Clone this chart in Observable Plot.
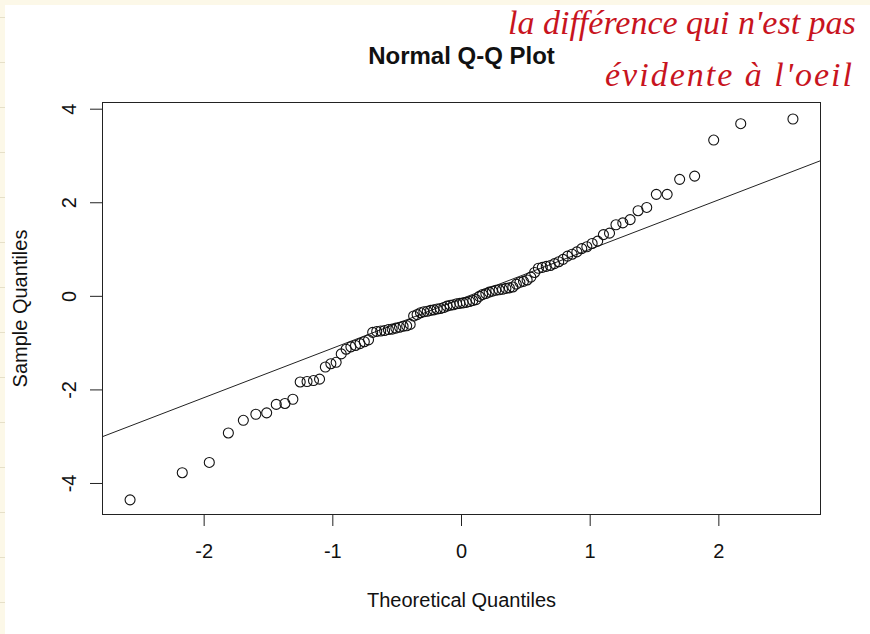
<!DOCTYPE html>
<html>
<head>
<meta charset="utf-8">
<script src="https://cdn.jsdelivr.net/npm/d3@7"></script>
<script src="https://cdn.jsdelivr.net/npm/@observablehq/plot@0.6"></script>
<style>
  html, body { margin: 0; padding: 0; width: 870px; height: 634px; overflow: hidden; background: #fff; }
  #wrap { position: relative; width: 870px; height: 634px; overflow: hidden; }
  #chart { position: absolute; left: 0; top: 0; }
  .strip-left { position: absolute; left: 0; top: 0; width: 5px; height: 634px; background-color: #fcf8e8;
    background-image: repeating-linear-gradient(to bottom, transparent 0px, transparent 17px, #e6e0c8 17px, #e6e0c8 18px, transparent 18px, transparent 45px); }
  .strip-top { position: absolute; left: 0; top: 0; width: 870px; height: 5px; background: #fcf8e8; }
  .note { position: absolute; color: #c8141e; font-family: "Liberation Serif", serif; font-style: italic; font-size: 34px; white-space: nowrap; line-height: 1; }
</style>
</head>
<body>
<div id="wrap">
  <div id="chart"></div>
  <div class="strip-left"></div>
  <div class="strip-top"></div>
  <div class="note" style="left:508px; top:6px;">la différence qui n'est pas</div>
  <div class="note" style="left:605px; top:58px; letter-spacing:2px;">évidente à l'oeil</div>
</div>
<script>
// Theoretical normal quantiles (n = 100)
const theoretical = [
  -2.5758, -2.1701, -1.9600, -1.8119, -1.6954, -1.5982, -1.5141, -1.4395, -1.3722, -1.3106,
  -1.2536, -1.2004, -1.1503, -1.1031, -1.0581, -1.0152, -0.9741, -0.9346, -0.8965, -0.8596,
  -0.8239, -0.7892, -0.7554, -0.7225, -0.6903, -0.6588, -0.6280, -0.5978, -0.5681, -0.5388,
  -0.5101, -0.4817, -0.4538, -0.4261, -0.3989, -0.3719, -0.3451, -0.3186, -0.2924, -0.2663,
  -0.2404, -0.2147, -0.1891, -0.1637, -0.1383, -0.1130, -0.0878, -0.0627, -0.0376, -0.0125,
   0.0125,  0.0376,  0.0627,  0.0878,  0.1130,  0.1383,  0.1637,  0.1891,  0.2147,  0.2404,
   0.2663,  0.2924,  0.3186,  0.3451,  0.3719,  0.3989,  0.4261,  0.4538,  0.4817,  0.5101,
   0.5388,  0.5681,  0.5978,  0.6280,  0.6588,  0.6903,  0.7225,  0.7554,  0.7892,  0.8239,
   0.8596,  0.8965,  0.9346,  0.9741,  1.0152,  1.0581,  1.1031,  1.1503,  1.2004,  1.2536,
   1.3106,  1.3722,  1.4395,  1.5141,  1.5982,  1.6954,  1.8119,  1.9600,  2.1701,  2.5758
];
// Sample quantiles (sorted sample)
const sample = [
  -4.35, -3.77, -3.55, -2.92, -2.65, -2.52, -2.49, -2.31, -2.29, -2.20,
  -1.83, -1.82, -1.80, -1.77, -1.51, -1.44, -1.41, -1.23, -1.13, -1.08,
  -1.05, -1.01, -0.97, -0.93, -0.77, -0.75, -0.74, -0.73, -0.71, -0.70,
  -0.68, -0.66, -0.64, -0.63, -0.60, -0.42, -0.39, -0.35, -0.33, -0.32,
  -0.30, -0.29, -0.27, -0.26, -0.24, -0.21, -0.19, -0.18, -0.16, -0.15,
  -0.14, -0.13, -0.11, -0.09, -0.07,  0.00,  0.04,  0.06,  0.09,  0.11,
   0.13,  0.14,  0.15,  0.17,  0.18,  0.20,  0.26,  0.30,  0.32,  0.35,
   0.41,  0.51,  0.60,  0.62,  0.64,  0.66,  0.70,  0.74,  0.79,  0.86,
   0.90,  0.95,  1.02,  1.06,  1.13,  1.18,  1.32,  1.35,  1.53,  1.57,
   1.64,  1.83,  1.90,  2.18,  2.18,  2.50,  2.57,  3.34,  3.69,  3.79
];
// Reference line (qqline) through the quartiles
const lineIntercept = -0.05;
const lineSlope = 1.057;
const lineXs = [-3.2, 3.2];

const xTicks = [-2, -1, 0, 1, 2];
const yTicks = [-4, -2, 0, 2, 4];

const title = "Normal Q-Q Plot";
const xLabel = "Theoretical Quantiles";
const yLabel = "Sample Quantiles";

const points = theoretical.map((t, i) => ({t, s: sample[i]}));
const refLine = lineXs.map(x => ({x, y: lineIntercept + lineSlope * x}));
const fmt = d => String(d);

const chart = Plot.plot({
  width: 870,
  height: 634,
  marginLeft: 102,
  marginRight: 50,
  marginTop: 102,
  marginBottom: 120,
  x: {domain: [-2.79, 2.79]},
  y: {domain: [-4.663, 4.143]},
  style: {fontFamily: "'Liberation Sans', Arial, sans-serif", fontSize: "20px", background: "transparent", color: "#111"},
  marks: [
    Plot.line(refLine, {x: "x", y: "y", stroke: "#222", strokeWidth: 1, clip: true}),
    Plot.dot(points, {x: "t", y: "s", r: 5, stroke: "#111", strokeWidth: 1.1, fill: "none"}),
    Plot.frame({stroke: "#222", strokeWidth: 1}),
    Plot.axisX({ticks: xTicks, tickSize: 12, tickPadding: 17, tickFormat: fmt, label: null, fontSize: 20, stroke: "#222"}),
    Plot.axisY({ticks: yTicks, tickSize: 12, tickFormat: () => "", label: null, stroke: "#222"}),
    Plot.text(yTicks, {y: d => d, text: fmt, frameAnchor: "left", textAnchor: "middle", lineAnchor: "middle", dx: -33, rotate: -90, fontSize: 20, fill: "#111"}),
    Plot.text([title], {frameAnchor: "top", textAnchor: "middle", lineAnchor: "middle", dy: -46, fontSize: 24, fontWeight: "bold", fill: "#111"}),
    Plot.text([xLabel], {frameAnchor: "bottom", textAnchor: "middle", lineAnchor: "middle", dy: 86, fontSize: 20, fill: "#111"}),
    Plot.text([yLabel], {frameAnchor: "left", textAnchor: "middle", lineAnchor: "middle", dx: -82, rotate: -90, fontSize: 20, fill: "#111"})
  ]
});
document.getElementById("chart").appendChild(chart);
</script>
</body>
</html>
